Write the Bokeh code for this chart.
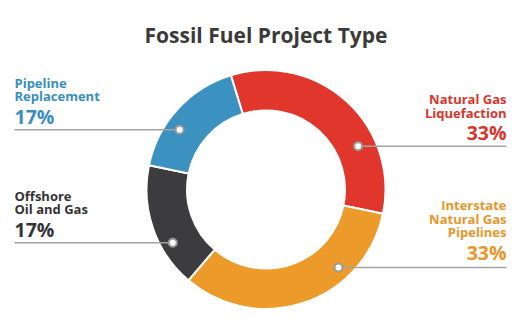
import math
from bokeh.plotting import figure
from bokeh.models import Range1d
from bokeh.core.properties import value
from bokeh.embed import file_html
from bokeh.resources import INLINE

# ---- data ----
categories = ["Natural Gas\nLiquefaction", "Interstate\nNatural Gas\nPipelines",
              "Offshore\nOil and Gas", "Pipeline\nReplacement"]
shares = [33, 33, 17, 17]
colors = ["#e0362c", "#ec9a29", "#3c3c3e", "#3b91c0"]
text_colors = ["#d9352c", "#e8962a", "#333335", "#3a8ebd"]
title = "Fossil Fuel Project Type"

# ---- layout (pixels, y measured from top) ----
W, H = 519, 325
CX, CY = 265.5, 189.0
R_OUT, R_IN = 119.5, 79.0
START_CLOCK = -17.1            # degrees clockwise from 12 o'clock
line_y = [145.7, 267.0, 242.3, 129.3]
dot_r = [101.8, 106.5, 107.4, 105.0]
side = ["right", "right", "left", "left"]
pct_base = [140.7, 260.0, 237.3, 124.0]
LEFT_X, RIGHT_X = 14, 506
LINE_GAP = 13.3
LAB_FS, PCT_FS, TITLE_FS = 13, 19.5, 21
BASE_FIX = 0.43   # baseline correction (fraction of font size)


def fy(y, fs=0.0):
    return H - (y - BASE_FIX * fs)


p = figure(width=W, height=H, output_backend="svg", toolbar_location=None,
           x_range=Range1d(0, W), y_range=Range1d(0, H), min_border=0)
p.axis.visible = False
p.grid.visible = False
p.outline_line_color = None
p.background_fill_color = "white"
p.border_fill_color = "white"

# wedges
total = float(sum(shares))
starts, ends = [], []
c = START_CLOCK
for s in shares:
    c1 = c + 360.0 * s / total
    starts.append(math.radians(90 - c))
    ends.append(math.radians(90 - c1))
    c = c1
p.annular_wedge(x=[CX] * 4, y=[fy(CY)] * 4, inner_radius=R_IN, outer_radius=R_OUT,
                start_angle=starts, end_angle=ends, direction="clock",
                fill_color=colors, line_color="white", line_width=2)

# leader lines and dots
dx_, dy_, lx0, lx1, ly = [], [], [], [], []
for i in range(4):
    dy = line_y[i] - CY
    dx = math.sqrt(dot_r[i] ** 2 - dy ** 2)
    if side[i] == "left":
        x = CX - dx
        lx0.append(LEFT_X); lx1.append(x)
    else:
        x = CX + dx
        lx0.append(x); lx1.append(RIGHT_X)
    dx_.append(x); dy_.append(fy(line_y[i])); ly.append(fy(line_y[i]))
p.segment(x0=lx0, y0=ly, x1=lx1, y1=ly, line_color="#a3a3a3", line_width=1.5)
p.scatter(x=dx_, y=dy_, size=8, fill_color="white", line_color="#9a9a9a", line_width=2)

# labels
tx, ty, tt, tc, ta = [], [], [], [], []
px, pyy, pt, pc, pa = [], [], [], [], []
for i, lab in enumerate(categories):
    lines = lab.split("\n")
    xx = LEFT_X if side[i] == "left" else RIGHT_X
    al = "left" if side[i] == "left" else "right"
    base = pct_base[i] - 23.0
    n = len(lines)
    for j, ln in enumerate(lines):
        tx.append(xx); ty.append(fy(base - (n - 1 - j) * LINE_GAP, LAB_FS))
        tt.append(ln); tc.append(text_colors[i]); ta.append(al)
    px.append(xx); pyy.append(fy(pct_base[i], PCT_FS)); pt.append(f"{shares[i]}%")
    pc.append(text_colors[i]); pa.append(al)

p.text(x=tx, y=ty, text=tt, text_color=tc, text_align=ta, text_baseline="alphabetic",
       text_font=value("Open Sans"), text_font_style="bold", text_font_size=f"{LAB_FS}px")
p.text(x=px, y=pyy, text=pt, text_color=pc, text_align=pa, text_baseline="alphabetic",
       text_font=value("Open Sans"), text_font_style="bold", text_font_size=f"{PCT_FS}px")

p.text(x=[CX], y=[fy(43.3, TITLE_FS)], text=[title], text_color="#3a3a3a", text_align="center",
       text_baseline="alphabetic", text_font=value("Open Sans"), text_font_style="bold",
       text_font_size=f"{TITLE_FS}px")

open("out.html", "w").write(file_html(p, INLINE))
